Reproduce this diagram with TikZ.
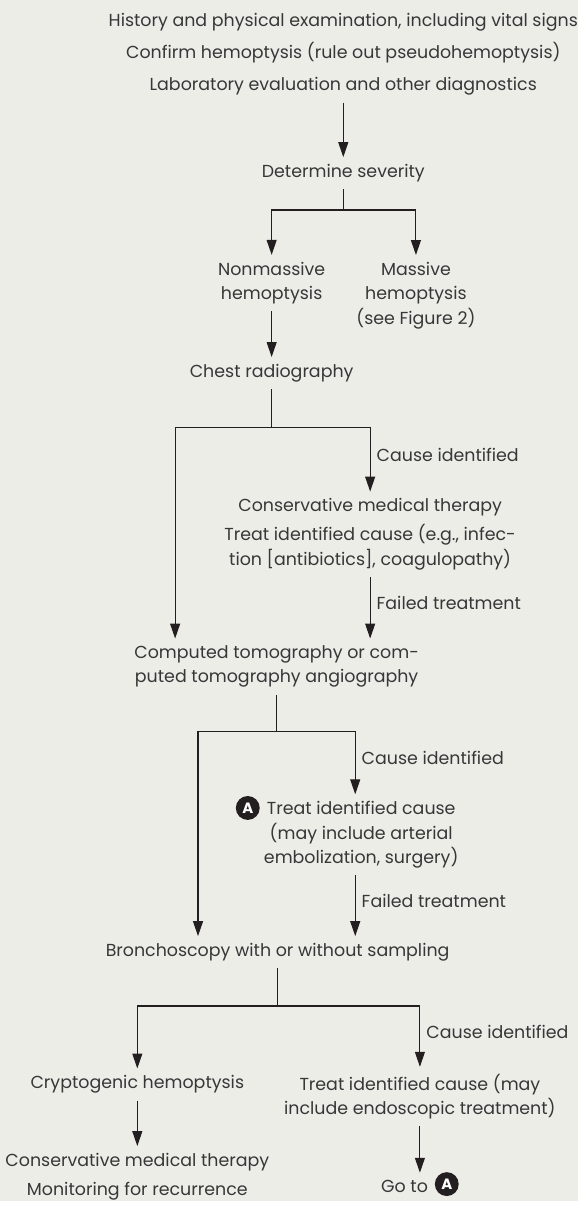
\documentclass[tikz,border=0pt]{standalone}
\usepackage{fontspec}
\setmainfont{Poppins}
\usepackage{tikz}
\usetikzlibrary{arrows.meta}
\definecolor{bg}{RGB}{237,237,232}
\definecolor{ink}{RGB}{35,31,32}
\definecolor{txt}{RGB}{55,55,55}

\begin{document}
\begin{tikzpicture}[x=1pt,y=-1pt,
    box/.style={align=center, inner xsep=0pt, inner ysep=7pt, text=txt,
      font=\fontsize{17.5}{24.5}\selectfont},
    lbl/.style={right, inner xsep=6pt, text=txt, font=\fontsize{17.5}{24.5}\selectfont},
    badge/.style={circle, fill=ink, text=white, inner sep=0pt, minimum size=24pt,
      font=\fontsize{15}{15}\selectfont\bfseries},
    link/.style={draw=ink, line width=1.1pt},
    arr/.style={link, -{Triangle[length=15pt,width=10pt]}}]
    \fill[bg] (0,0) rectangle (581,1207);

    \node[box] (hist) at (345,54.5) {History and physical examination, including vital signs\\[8pt]
      Confirm hemoptysis (rule out pseudohemoptysis)\\[8pt]
      Laboratory evaluation and other diagnostics};
    \node[box] (sev) at (345,174) {Determine severity};
    \node[box] (nonm) at (273,284.5) {Nonmassive\\hemoptysis};
    \node[box] (mass) at (418,297) {Massive\\hemoptysis\\(see Figure 2)};
    \node[box] (chest) at (273,375) {Chest radiography};
    \node[box] (cons) at (372,537) {Conservative medical therapy\\[4.5pt]
      Treat identified cause (e.g., infec-\\tion [antibiotics], coagulopathy)};
    \node[box] (cto) at (278,670) {Computed tomography or com-\\puted tomography angiography};
    \node[box] (treatA) at (363,839) {Treat identified cause\\(may include arterial\\embolization, surgery)};
    \node[badge] (markA) at (249,812) {A};
    \node[box] (bron) at (279,957) {Bronchoscopy with or without sampling};
    \node[box] (cryp) at (138,1090) {Cryptogenic hemoptysis};
    \node[box] (treatB) at (422,1102) {Treat identified cause (may\\include endoscopic treatment)};
    \node[box] (mon) at (138,1182.5) {Conservative medical therapy\\[4.5pt]Monitoring for recurrence};
    \node[box] (goto) at (406.5,1192) {Go to};
    \node[badge] (gotoA) at (449,1190) {A};

    \coordinate (j1) at (345,211);
    \coordinate (j1l) at (273,211);
    \coordinate (j1r) at (418,211);
    \coordinate (j2) at (273,430);
    \coordinate (j2l) at (176,430);
    \coordinate (j2r) at (372,430);
    \coordinate (j3) at (278,735);
    \coordinate (j3l) at (199,735);
    \coordinate (j3r) at (357,735);
    \coordinate (j4) at (279,1011);
    \coordinate (j4l) at (138,1011);
    \coordinate (j4r) at (422,1011);

    \draw[arr] (hist) -- (sev);
    \draw[link] (sev) -- (j1);
    \draw[arr] (j1) -| (nonm.north -| j1l);
    \draw[arr] (j1) -| (mass.north -| j1r);
    \draw[arr] (nonm) -- (chest);

    \draw[link] (chest) -- (j2);
    \draw[arr] (j2) -| node[lbl, pos=.71] {Cause identified} (cons.north -| j2r);
    \draw[arr] (j2) -| (cto.north -| j2l);
    \draw[arr] (cons.south -| j2r) -- node[lbl, pos=.42] {Failed treatment} (cto.north -| j2r);

    \draw[link] (cto) -- (j3);
    \draw[arr] (j3) -| node[lbl, pos=.71] {Cause identified} (treatA.north -| j3r);
    \draw[arr] (j3) -| (bron.north -| j3l);
    \draw[arr] (treatA.south -| j3r) -- node[lbl, pos=.42] {Failed treatment} (bron.north -| j3r);

    \draw[link] (bron) -- (j4);
    \draw[arr] (j4) -| (cryp.north -| j4l);
    \draw[arr] (j4) -| node[lbl, pos=.71] {Cause identified} (treatB.north -| j4r);
    \draw[arr] (cryp) -- (mon);
    \draw[arr] (treatB) -- (goto.north -| treatB);
\end{tikzpicture}
\end{document}
